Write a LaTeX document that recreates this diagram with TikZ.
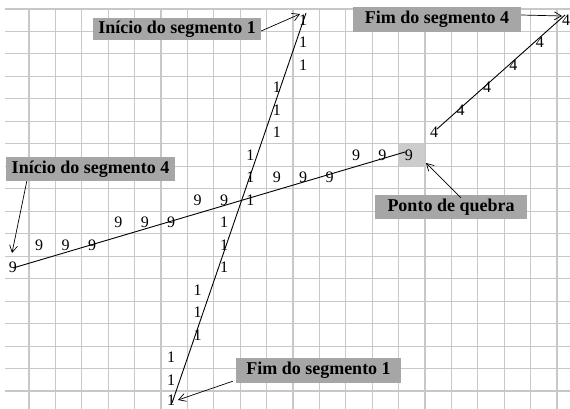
\documentclass[tikz,border=0pt]{standalone}
\usepackage{fontspec}
\setmainfont{Liberation Serif}
\usetikzlibrary{arrows.meta}
\definecolor{gridgray}{RGB}{200,200,200}
\definecolor{cellgray}{RGB}{204,204,204}
\definecolor{labelgray}{RGB}{166,166,166}
\tikzset{
  gridline/.style={draw=gridgray, line width=1.1pt},
  digit/.style={inner sep=0pt, font=\fontsize{16}{16}\selectfont},
  seg/.style={draw=black, line width=0.9pt},
  lab/.style={fill=labelgray, inner sep=0pt, font=\bfseries\fontsize{18}{18}\selectfont},
  pointer/.style={draw=black, line width=0.7pt, -{Straight Barb[length=7pt,width=8pt]}}
}
\begin{document}
\begin{tikzpicture}[x=1pt,y=-1pt]
\useasboundingbox (0,0) rectangle (570,409);
\fill[white] (0,0) rectangle (570,409);
% break-point cell
\fill[cellgray] (398.6,143.8) rectangle (425,166.3);
% grid
\foreach \k in {0,...,17} \draw[gridline] (5,{9+22.47*\k}) -- (570,{9+22.47*\k});
\foreach \j in {0,...,20} \draw[gridline] ({29+26.4*\j},9) -- ({29+26.4*\j},409);
% segment lines
\coordinate (s1a) at (172,403);
\coordinate (s1b) at (306,13);
\coordinate (s4a) at (13,268);
\coordinate (s4b) at (405,152);
\coordinate (s4c) at (437,129);
\coordinate (s4d) at (565,15);
\draw[seg] (s1a) -- (s1b);
\draw[seg] (s4a) -- (s4b);
\draw[seg] (s4c) -- (s4d);
% digits 1
\foreach \c/\r in {11/0,11/1,11/2,10/3,10/4,10/5,9/6,9/7,9/8,8/9,8/10,8/11,7/12,7/13,7/14,6/15,6/16}
  \node[digit] (one-\r) at ({15.8+26.4*\c-3},{20.2+22.47*\r}) {1};
\node[digit] (one-17) at (171.2,400) {1};
% digits 9
\foreach \c/\r in {0/11,1/10,2/10,3/10,4/9,5/9,6/9,7/8,8/8,10/7,11/7,12/7,13/6,14/6,15/6}
  \node[digit] (nine-\c) at ({15.8+26.4*\c-3},{20.2+22.47*\r}) {9};
% digits 4
\foreach \c/\r in {16/5,17/4,18/3,19/2,20/1,21/0}
  \node[digit] (four-\c) at ({15.8+26.4*\c-4},{20.2+22.47*\r}) {4};
% labels
\node[lab, minimum width=168pt, minimum height=22pt] (ls1) at (177,29) {Início do segmento 1};
\node[lab, minimum width=168pt, minimum height=25pt] (le4) at (437,19.5) {Fim do segmento 4};
\node[lab, minimum width=169pt, minimum height=24pt] (ls4) at (90.5,169) {Início do segmento 4};
\node[lab, minimum width=152pt, minimum height=24pt] (pq) at (451,207) {Ponto de quebra};
\node[lab, minimum width=165pt, minimum height=25pt] (le1) at (318.5,370.5) {Fim do segmento 1};
% pointer targets
\coordinate (t1) at (300,14);
\coordinate (t2) at (562,16);
\coordinate (t3) at (12,253);
\coordinate (t4) at (426,163);
\coordinate (t5) at (178,400);
\draw[pointer] ([yshift=-2pt]ls1.east) -- (t1);
\draw[pointer] ([yshift=4.5pt]le4.east) -- (t2);
\draw[pointer] ([xshift=21pt]ls4.south west) -- (t3);
\draw[pointer] ([xshift=86pt,yshift=-3pt]pq.north west) -- (t4);
\draw[pointer] ([xshift=-3pt,yshift=2pt]le1.south west) -- (t5);
\end{tikzpicture}
\end{document}
